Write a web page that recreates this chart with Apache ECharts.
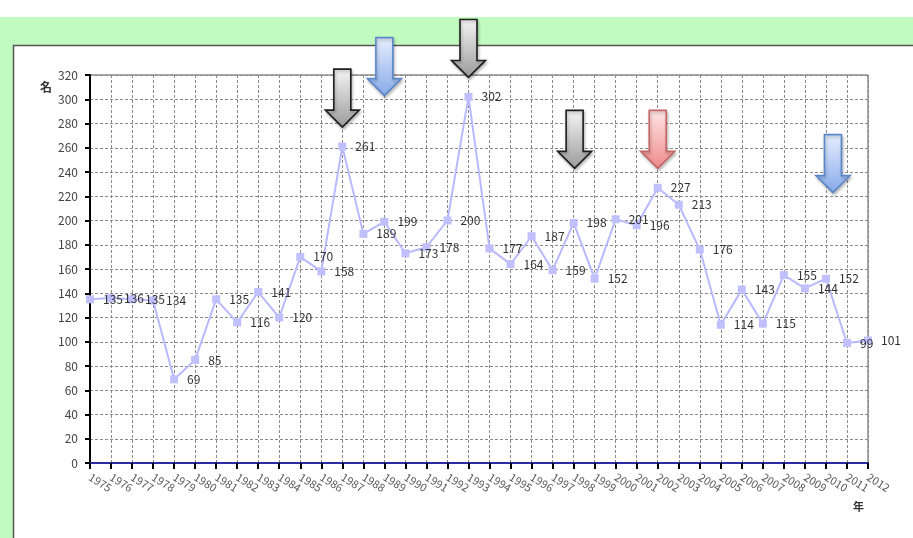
<!DOCTYPE html>
<html>
<head>
<meta charset="utf-8">
<script src="https://cdn.jsdelivr.net/npm/echarts@6/dist/echarts.min.js"></script>
<style>
  html, body { margin: 0; padding: 0; background: #ffffff; }
  #chart { width: 913px; height: 538px; }
</style>
</head>
<body>
<div id="chart"></div>
<script>
// Yearly counts (名), 1975–2012
const years = ['1975','1976','1977','1978','1979','1980','1981','1982','1983','1984',
               '1985','1986','1987','1988','1989','1990','1991','1992','1993','1994',
               '1995','1996','1997','1998','1999','2000','2001','2002','2003','2004',
               '2005','2006','2007','2008','2009','2010','2011','2012'];
const counts = [135,136,135,134,69,85,135,116,141,120,
                170,158,261,189,199,173,178,200,302,177,
                164,187,159,198,152,201,196,227,213,176,
                114,143,115,155,144,152,99,101];
const yMin = 0, yMax = 320, yStep = 20;

// Down-arrow callouts: year, value at the arrow tip, style, sideways nudge (px)
const arrowYears  = ['1987','1989','1993','1998','2002','2010'];
const arrowTips   = [277, 303, 318, 243, 243, 223];
const arrowKinds  = ['gray','blue','gray','gray','red','blue'];
const arrowNudges = [0, 0, 0, 1, 0, 7];

const arrowStyles = {
  gray: { top: '#f6f6f6', bottom: '#9a9a9a', stroke: '#1e1e1e' },
  blue: { top: '#e8efff', bottom: '#86a9ea', stroke: '#5b87c9' },
  red:  { top: '#ffe6e6', bottom: '#ef8a8a', stroke: '#c76464' }
};

const FONT = '"Noto Sans CJK JP", "DejaVu Sans", sans-serif';

const chart = echarts.init(document.getElementById('chart'), null, { renderer: 'canvas' });

const frameGraphics = [
  { type: 'rect', silent: true, z: -10, shape: { x: 0, y: 17, width: 913, height: 28 }, style: { fill: '#c2fbc0' } },
  { type: 'rect', silent: true, z: -10, shape: { x: 0, y: 17, width: 13, height: 521 }, style: { fill: '#c2fbc0' } },
  { type: 'polyline', silent: true, z: -9, shape: { points: [[13.5, 538], [13.5, 45.5], [913, 45.5]] },
    style: { stroke: '#555555', lineWidth: 1.5, fill: null } }
];

chart.setOption({
  animation: false,
  backgroundColor: '#ffffff',
  textStyle: { fontFamily: FONT },
  grid: {
    left: 90, right: 45, top: 75, bottom: 75,
    show: true, borderColor: '#555555', borderWidth: 1, backgroundColor: 'transparent'
  },
  xAxis: {
    type: 'category',
    data: years,
    boundaryGap: false,
    name: '年',
    nameLocation: 'end',
    nameGap: -4,
    nameTextStyle: { color: '#333', fontSize: 11, fontWeight: 'bold', align: 'right', verticalAlign: 'top', padding: [38, 0, 0, 0] },
    axisLine: { show: true, onZero: false, lineStyle: { color: '#2b2ba8', width: 2 } },
    axisTick: { show: true, interval: 0, length: 6, lineStyle: { color: '#000', width: 2 } },
    axisLabel: { interval: 0, rotate: -32, margin: 13, fontSize: 11, color: '#555', fontFamily: FONT },
    splitLine: { show: true, interval: 0, lineStyle: { color: '#8a8a8a', type: [3, 2], width: 1 } }
  },
  yAxis: {
    type: 'value',
    min: yMin, max: yMax, interval: yStep,
    name: '名',
    nameLocation: 'end',
    nameGap: -6,
    nameTextStyle: { color: '#333', fontSize: 12, fontWeight: 'bold', align: 'right', verticalAlign: 'top', padding: [0, 38, 0, 0] },
    axisLine: { show: true, lineStyle: { color: '#000', width: 2 } },
    axisTick: { show: true, length: 5, lineStyle: { color: '#000', width: 2 } },
    axisLabel: { margin: 12, fontSize: 12, color: '#444', fontFamily: FONT },
    splitLine: { show: true, lineStyle: { color: '#8a8a8a', type: [3, 2], width: 1 } }
  },
  series: [{
    type: 'line',
    data: counts,
    symbol: 'rect',
    symbolSize: 8,
    showAllSymbol: true,
    clip: false,
    lineStyle: { color: '#b9b9ff', width: 2 },
    itemStyle: { color: '#c0c0ff' },
    label: { show: true, position: 'right', distance: 9, fontSize: 12, color: '#333', fontFamily: FONT },
    z: 3
  }],
  graphic: frameGraphics
});

// Arrow callouts anchored to the axes
function arrowShape(tx, ty) {
  const bodyHalf = 8.5, headHalf = 17, headH = 17, len = 58;
  return [
    [tx - bodyHalf, ty - len], [tx + bodyHalf, ty - len],
    [tx + bodyHalf, ty - headH], [tx + headHalf, ty - headH],
    [tx, ty], [tx - headHalf, ty - headH], [tx - bodyHalf, ty - headH]
  ];
}

const arrowGraphics = arrowYears.map(function (yr, i) {
  const p = chart.convertToPixel({ gridIndex: 0 }, [yr, arrowTips[i]]);
  const s = arrowStyles[arrowKinds[i]];
  return {
    type: 'polygon',
    silent: true,
    z: 50,
    shape: { points: arrowShape(p[0] + arrowNudges[i], p[1]) },
    style: {
      fill: new echarts.graphic.LinearGradient(0, 0, 0, 1, [
        { offset: 0, color: s.top }, { offset: 1, color: s.bottom }
      ]),
      stroke: s.stroke,
      lineWidth: 1.6,
      shadowBlur: 3,
      shadowOffsetX: 1,
      shadowOffsetY: 2,
      shadowColor: 'rgba(0,0,0,0.25)'
    }
  };
});

chart.setOption({ graphic: frameGraphics.concat(arrowGraphics) }, { replaceMerge: ['graphic'] });
</script>
</body>
</html>
